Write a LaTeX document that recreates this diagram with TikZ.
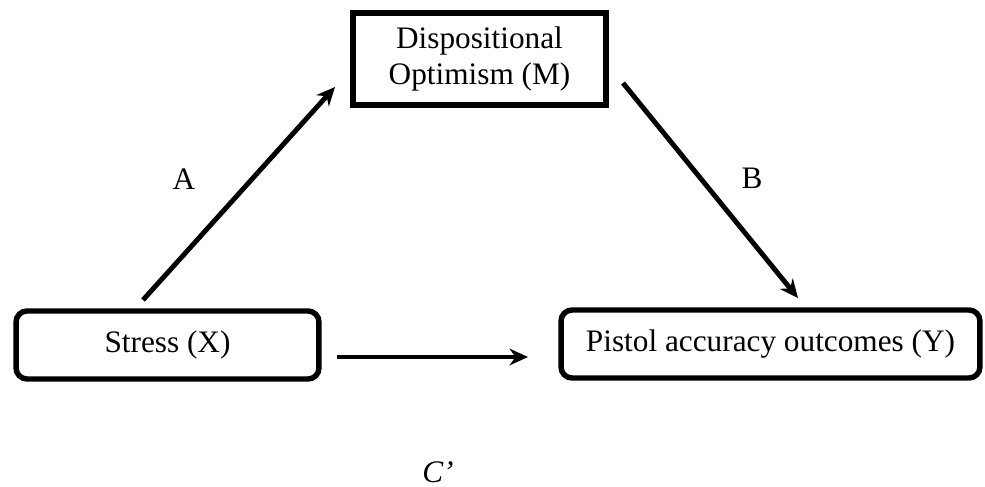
\documentclass[tikz,border=0pt]{standalone}
\usepackage{fontspec}
\setmainfont{Liberation Serif}
\usetikzlibrary{positioning}
\usetikzlibrary{arrows.meta}

\begin{document}
\begin{tikzpicture}[x=0.02cm, y=-0.02cm, >={Stealth[length=10.5pt, width=9.5pt]},
        font=\fontsize{17.8}{21}\selectfont,
        box/.style={draw, line width=3.1pt, inner sep=0pt, align=center},
        arr/.style={->, line width=2.8pt}]
        \useasboundingbox (0,0) rectangle (985,487);

        \node[box, minimum width=5.06cm, minimum height=1.84cm] (m) at (479.5,59) {Dispositional\\Optimism (M)};
        \node[box, rounded corners=0.22cm, minimum width=6.06cm, minimum height=1.36cm] (x) at (167.5,345) {Stress (X)};
        \node[box, rounded corners=0.22cm, minimum width=8.38cm, minimum height=1.36cm] (y) at (770.5,344) {Pistol accuracy outcomes (Y)};

        \coordinate (a0) at (143,300);
        \coordinate (a1) at (335,87);
        \coordinate (b0) at (623,83);
        \coordinate (b1) at (798,298);
        \coordinate (c0) at (337,357);
        \coordinate (c1) at (528,357);

        \draw[arr] (a0) -- (a1);
        \draw[arr] (b0) -- (b1);
        \draw[arr] (c0) -- (c1);

        \node (la) at (184,179) {A};
        \node (lb) at (752,178) {B};
        \node (lc) at (438,472) {\textit{C’}};
    \end{tikzpicture}
\end{document}
